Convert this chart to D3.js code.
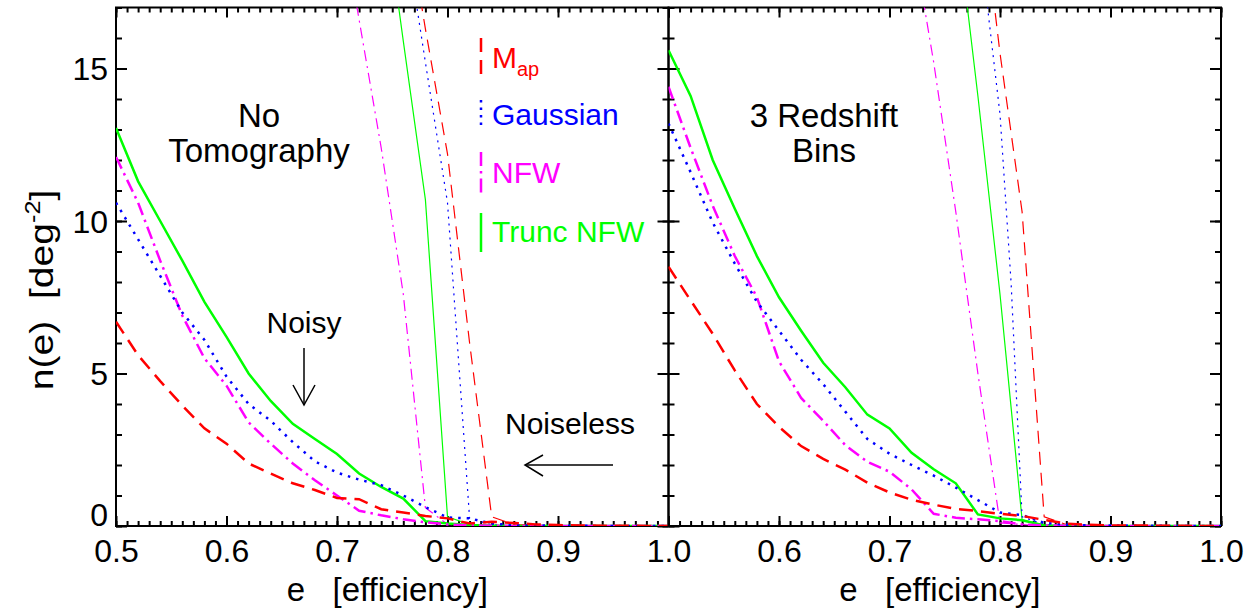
<!DOCTYPE html>
<html>
<head>
<meta charset="utf-8">
<script src="https://cdn.jsdelivr.net/npm/d3@7"></script>
<style>
  body { margin: 0; background: #fff; }
  text { font-family: "Liberation Sans", Arial, Helvetica, sans-serif; }
</style>
</head>
<body>
<svg id="chart" width="1251" height="611"></svg>
<script>
// efficiency grid of the noisy curves
const eGrid = [0.50, 0.52, 0.54, 0.56, 0.58, 0.60, 0.62, 0.64, 0.66, 0.68, 0.70, 0.72, 0.74,
               0.76, 0.78, 0.80, 0.82, 0.84, 0.86, 0.88, 0.90, 0.92, 0.94, 0.96, 0.98, 1.00]

// No Tomography, noisy
const mapNoisyL   = [6.7, 5.6, 4.75, 3.95, 3.2, 2.7, 2.05, 1.72, 1.4, 1.18, 0.92, 0.88, 0.55, 0.44, 0.33, 0.25, 0.08, 0.14, 0.1, 0.05, 0.03, 0.02, 0.01, 0.01, 0, 0]
const gaussNoisyL = [10.6, 9.4, 8.2, 7.0, 6.1, 4.9, 4.0, 3.45, 2.75, 2.12, 1.75, 1.52, 1.34, 1.0, 0.62, 0.28, 0.25, 0.08, 0.03, 0.02, 0.01, 0.01, 0, 0, 0, 0]
const nfwNoisyL   = [12.1, 10.6, 8.7, 6.9, 5.5, 4.6, 3.4, 2.7, 2.05, 1.5, 1.0, 0.5, 0.35, 0.22, 0.12, 0.05, 0.02, 0.01, 0, 0, 0, 0, 0, 0, 0, 0]
const truncNoisyL = [13.05, 11.3, 10.0, 8.7, 7.35, 6.2, 5.0, 4.1, 3.35, 2.85, 2.36, 1.72, 1.28, 0.9, 0.16, 0.08, 0.03, 0.01, 0, 0, 0, 0, 0, 0, 0, 0]

// 3 Redshift Bins, noisy
const mapNoisyR   = [8.5, 7.4, 6.3, 5.1, 4.0, 3.25, 2.62, 2.2, 1.85, 1.42, 1.1, 0.86, 0.7, 0.56, 0.49, 0.4, 0.33, 0.2, 0.08, 0.04, 0.02, 0.02, 0.01, 0.01, 0, 0]
const gaussNoisyR = [13.2, 11.6, 9.95, 8.6, 7.35, 6.4, 5.45, 4.65, 3.75, 2.85, 2.37, 2.0, 1.65, 1.26, 0.85, 0.44, 0.36, 0.1, 0.04, 0.02, 0.02, 0.01, 0.01, 0, 0, 0]
const nfwNoisyR   = [14.4, 12.4, 10.5, 8.85, 7.5, 5.4, 4.2, 3.45, 2.65, 2.1, 1.78, 1.2, 0.4, 0.27, 0.22, 0.16, 0.05, 0.02, 0.01, 0, 0, 0, 0, 0, 0, 0]
const truncNoisyR = [15.6, 14.1, 12.0, 10.4, 8.85, 7.5, 6.4, 5.35, 4.55, 3.65, 3.2, 2.4, 1.86, 1.4, 0.38, 0.25, 0.19, 0.02, 0.01, 0, 0, 0, 0, 0, 0, 0]

// noiseless curves, [e, n(e)]
const mapCleanL   = [[0.76, 20.7], [0.78, 16.3], [0.80, 12.2], [0.82, 6.0], [0.84, 0.3], [0.86, 0.05], [0.90, 0], [1.0, 0]]
const gaussCleanL = [[0.76, 19.9], [0.78, 15.2], [0.80, 10.6], [0.82, 0.25], [0.84, 0.04], [0.88, 0], [1.0, 0]]
const nfwCleanL   = [[0.70, 20.8], [0.72, 16.6], [0.74, 12.4], [0.76, 7.6], [0.78, 0.6], [0.80, 0.05], [0.84, 0], [1.0, 0]]
const truncCleanL = [[0.74, 21.2], [0.76, 15.9], [0.78, 10.7], [0.80, 0.3], [0.82, 0.05], [0.86, 0], [1.0, 0]]

const mapCleanR   = [[0.78, 21.6], [0.80, 15.5], [0.82, 10.3], [0.84, 0.3], [0.86, 0.05], [0.90, 0], [1.0, 0]]
const gaussCleanR = [[0.78, 20.0], [0.79, 16.6], [0.80, 13.5], [0.81, 8.0], [0.82, 0.3], [0.84, 0.05], [0.88, 0], [1.0, 0]]
const nfwCleanR   = [[0.72, 19.5], [0.74, 15.2], [0.76, 10.3], [0.78, 5.0], [0.80, 0.1], [0.84, 0], [1.0, 0]]
const truncCleanR = [[0.76, 20.2], [0.78, 14.1], [0.80, 7.6], [0.82, 0.2], [0.84, 0.03], [0.88, 0], [1.0, 0]]

const xMajor = [0.5, 0.6, 0.7, 0.8, 0.9, 1.0]
const yMajor = [0, 5, 10, 15]
const legendNames = ['M', 'Gaussian', 'NFW', 'Trunc NFW']

const svg = d3.select('#chart')
const plotTop = 7.5, plotBottom = 526
const panels = [
    {x0: 116, x1: 668.5, id: 'L', title: ['No', 'Tomography'], tx: 259,
        noisy: [truncNoisyL, nfwNoisyL, gaussNoisyL, mapNoisyL],
        clean: [truncCleanL, nfwCleanL, gaussCleanL, mapCleanL]},
    {x0: 668.5, x1: 1221, id: 'R', title: ['3 Redshift', 'Bins'], tx: 824,
        noisy: [truncNoisyR, nfwNoisyR, gaussNoisyR, mapNoisyR],
        clean: [truncCleanR, nfwCleanR, gaussCleanR, mapCleanR]}
]
// order: trunc, nfw, gauss, map
const styles = [
    {color: '#00ff00', dash: null, thinDash: null},
    {color: '#ff00ff', dash: '13,5,2.5,5', thinDash: '11,5,2,5'},
    {color: '#0000ff', dash: '2.5,6', thinDash: '2,5'},
    {color: '#ff0000', dash: '14,8', thinDash: '13,8'}
]

const y = d3.scaleLinear().domain([0, 17]).range([plotBottom, plotTop])

panels.forEach((p, pi) => {
    const x = d3.scaleLinear().domain([0.5, 1.0]).range([p.x0, p.x1])
    const g = svg.append('g')

    g.append('clipPath').attr('id', 'clip' + p.id)
        .append('rect')
        .attr('x', p.x0).attr('y', plotTop)
        .attr('width', p.x1 - p.x0).attr('height', plotBottom - plotTop)

    const minor = d3.range(50, 101).map(d => d / 100)
    const ticksDraw = (axis, tx, ty) => g.append('g')
        .attr('transform', `translate(${tx},${ty})`)
        .call(axis)
        .call(s => s.select('.domain').remove())
        .call(s => s.selectAll('line').attr('stroke', '#000').attr('stroke-width', 2))

    // bottom
    ticksDraw(d3.axisBottom(x).tickValues(minor).tickSize(-5).tickFormat(''), 0, plotBottom)
    const bx = ticksDraw(d3.axisBottom(x).tickValues(pi === 0 ? xMajor : xMajor.slice(1))
        .tickSize(-10).tickPadding(13).tickFormat(d3.format('.1f')), 0, plotBottom)
    bx.selectAll('text').attr('font-size', 32).attr('fill', '#000')
    // top
    ticksDraw(d3.axisTop(x).tickValues(minor).tickSize(-5).tickFormat(''), 0, plotTop)
    ticksDraw(d3.axisTop(x).tickValues(xMajor).tickSize(-10).tickFormat(''), 0, plotTop)
    // left
    ticksDraw(d3.axisLeft(y).tickValues(d3.range(0, 18)).tickSize(-6).tickFormat(''), p.x0, 0)
    const ly = ticksDraw(d3.axisLeft(y).tickValues(yMajor).tickSize(-11).tickPadding(8)
        .tickFormat(pi === 0 ? d3.format('d') : ''), p.x0, 0)
    ly.selectAll('text').attr('font-size', 32).attr('fill', '#000')
        .attr('dy', d => d === 0 ? '-0.02em' : '0.35em')
    // right
    ticksDraw(d3.axisRight(y).tickValues(d3.range(0, 18)).tickSize(-6).tickFormat(''), p.x1, 0)
    ticksDraw(d3.axisRight(y).tickValues(yMajor).tickSize(-11).tickFormat(''), p.x1, 0)

    g.append('rect')
        .attr('x', p.x0).attr('y', plotTop)
        .attr('width', p.x1 - p.x0).attr('height', plotBottom - plotTop)
        .attr('fill', 'none').attr('stroke', '#000').attr('stroke-width', 2)

    const line = d3.line().x(d => x(d[0])).y(d => y(d[1]))
    const lines = g.append('g').attr('clip-path', `url(#clip${p.id})`)

    p.clean.forEach((c, i) => {
        lines.append('path')
            .attr('d', line(c))
            .attr('fill', 'none')
            .attr('stroke', styles[i].color)
            .attr('stroke-width', 1.2)
            .attr('stroke-dasharray', styles[i].thinDash)
    })
    p.noisy.forEach((vals, i) => {
        lines.append('path')
            .attr('d', line(eGrid.map((e, k) => [e, vals[k]])))
            .attr('fill', 'none')
            .attr('stroke', styles[i].color)
            .attr('stroke-width', 2.5)
            .attr('stroke-dasharray', styles[i].dash)
    })

    // panel label
    g.append('text').attr('x', p.tx).attr('y', 127).attr('text-anchor', 'middle')
        .attr('font-size', 33).text(p.title[0])
    g.append('text').attr('x', p.tx).attr('y', 162).attr('text-anchor', 'middle')
        .attr('font-size', 33).text(p.title[1])

    // axis title
    g.append('text')
        .attr('x', (p.x0 + p.x1) / 2 - 5).attr('y', 601)
        .attr('text-anchor', 'middle').attr('font-size', 33)
        .attr('xml:space', 'preserve')
        .text('e   [efficiency]')
})

// y title
const yt = svg.append('text')
    .attr('transform', 'translate(53,290) rotate(-90) scale(1.15,1)')
    .attr('text-anchor', 'middle').attr('font-size', 34)
    .attr('xml:space', 'preserve')
yt.append('tspan').text('n(e)  [deg')
yt.append('tspan').attr('dy', -13).attr('font-size', 22).text('-2')
yt.append('tspan').attr('dy', 13).text(']')

// legend
const legY = [[38, 80], [100, 130], [152, 197], [213, 252]]
const legBase = [68, 125, 183, 242]
const legColors = ['#ff0000', '#0000ff', '#ff00ff', '#00ff00']
const legDash = ['14,8', '2.5,5', '14,5,2.5,5', null]
legendNames.forEach((name, i) => {
    svg.append('line')
        .attr('x1', 481).attr('x2', 481)
        .attr('y1', legY[i][0]).attr('y2', legY[i][1])
        .attr('stroke', legColors[i]).attr('stroke-width', 2.5)
        .attr('stroke-dasharray', legDash[i])
    const t = svg.append('text')
        .attr('x', 492).attr('y', legBase[i])
        .attr('font-size', 30).attr('fill', legColors[i])
        .text(name)
    if (i === 0) {
        t.append('tspan').attr('dy', 8).attr('font-size', 20).text('ap')
    }
})

// annotations
svg.append('text').attr('x', 304).attr('y', 333).attr('text-anchor', 'middle')
    .attr('font-size', 30).text('Noisy')
svg.append('text').attr('x', 570).attr('y', 434).attr('text-anchor', 'middle')
    .attr('font-size', 30).text('Noiseless')
const arrows = [
    [[304, 348], [304, 405], [293, 385], [315, 385]],
    [[613, 465], [525, 465], [543, 455], [543, 476]]
]
arrows.forEach(a => {
    svg.append('line').attr('x1', a[0][0]).attr('y1', a[0][1]).attr('x2', a[1][0]).attr('y2', a[1][1])
        .attr('stroke', '#000').attr('stroke-width', 1.5)
    svg.append('path').attr('d', `M${a[2][0]},${a[2][1]}L${a[1][0]},${a[1][1]}L${a[3][0]},${a[3][1]}`)
        .attr('fill', 'none').attr('stroke', '#000').attr('stroke-width', 1.5)
})
</script>
</body>
</html>
